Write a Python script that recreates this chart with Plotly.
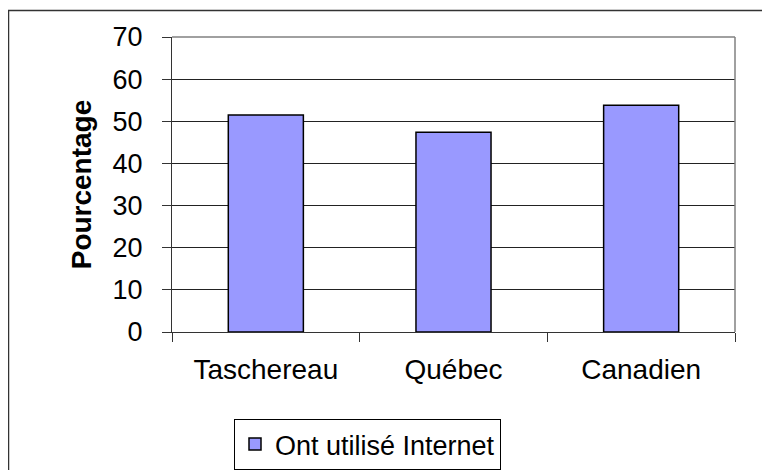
import plotly.graph_objects as go

categories = ["Taschereau", "Québec", "Canadien"]
values = [51.5, 47.4, 53.8]
series_name = "Ont utilisé Internet"
y_ticks = [0, 10, 20, 30, 40, 50, 60, 70]

# page has an 8px body margin; figure coordinates = page coordinates - 8
OFF = 8
W, H = 770 - OFF, 470 - OFF
L, T = 172 - OFF, 37 - OFF
R = W - (735 - OFF)
B = H - (332 - OFF)
pw, ph = W - L - R, H - T - B

def px(x):
    return (x - OFF - L) / pw

def py(y):
    return (H - B - (y - OFF)) / ph

FONT = "Liberation Sans, Arial, sans-serif"

fig = go.Figure()
fig.add_trace(go.Bar(
    x=categories, y=values, name=series_name,
    marker=dict(color="#9999FF", line=dict(color="#000000", width=1.5)),
    showlegend=True,
))

fig.update_layout(
    width=W, height=H,
    margin=dict(l=L, r=R, t=T, b=B, pad=0, autoexpand=False),
    paper_bgcolor="white", plot_bgcolor="white",
    font=dict(family=FONT, size=28, color="black"),
    bargap=0.6,
    showlegend=True,
    legend=dict(
        x=px(234), y=py(419), xanchor="left", yanchor="top",
        bordercolor="#000000", borderwidth=1,
        font=dict(family=FONT, size=27, color="black"),
        bgcolor="white",
        tracegroupgap=0,
    ),
    xaxis=dict(
        showline=True, linecolor="#333333", linewidth=1,
        ticks="outside", ticklen=9, tickcolor="#333333",
        tickson="boundaries", showgrid=False,
        tickfont=dict(size=28),
        ticklabelstandoff=12,
        automargin=False,
    ),
    yaxis=dict(
        range=[0, 70], tickvals=y_ticks,
        showline=True, linecolor="#333333", linewidth=1,
        ticks="outside", ticklen=9, tickcolor="#333333",
        showgrid=True, gridcolor="#222222", gridwidth=1,
        zeroline=False,
        tickfont=dict(size=27),
        ticklabelstandoff=14,
        automargin=False,
        title=dict(text="<b>Pourcentage</b>", font=dict(size=28), standoff=12),
    ),
    shapes=[
        dict(type="line", xref="paper", yref="paper", x0=0, x1=1, y0=1, y1=1,
             line=dict(color="#808080", width=1.5)),
        dict(type="line", xref="paper", yref="paper", x0=1, x1=1, y0=0, y1=1,
             line=dict(color="#808080", width=1.5)),
        dict(type="rect", xref="paper", yref="paper",
             x0=px(8.5), x1=px(780), y0=py(480), y1=py(10.5),
             line=dict(color="#333333", width=1.5), layer="below"),
    ],
)

fig.write_html("out.html")
